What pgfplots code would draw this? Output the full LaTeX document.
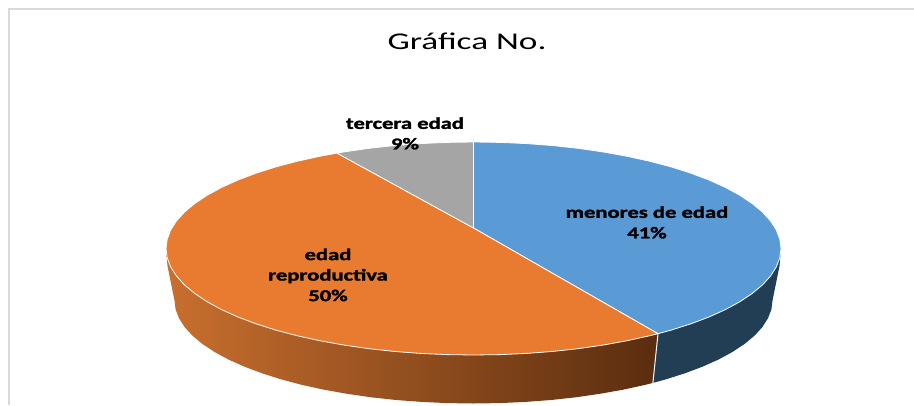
\documentclass[border=0pt]{standalone}
\usepackage{fontspec}
\setmainfont{Carlito}
\newfontfamily\lblfont[FakeBold=1.5]{Carlito Bold}
\usepackage{graphicx}
\usepackage{pgfplots}
\pgfplotsset{compat=1.18}

\definecolor{piegray}{HTML}{A5A5A5}
\definecolor{pieblue}{HTML}{5B9BD5}
\definecolor{pieorange}{HTML}{E97B30}
\definecolor{sideblue}{HTML}{223E55}
\definecolor{sideleft}{HTML}{C96F2E}
\definecolor{sideright}{HTML}{5A2D0F}
\definecolor{framegray}{HTML}{D9D9D9}

\newcommand{\lbl}[1]{\scalebox{1.37}[1]{\fontsize{16.5}{20.5}\selectfont\lblfont\begin{tabular}{@{}c@{}}#1\end{tabular}}}

\begin{document}
\begin{tikzpicture}
\useasboundingbox (0,0) rectangle (914pt,405pt);
\begin{axis}[
    at={(0,0)}, anchor=south west,
    width=914pt, height=405pt,
    scale only axis,
    xmin=0, xmax=914,
    ymin=0, ymax=405,
    y dir=reverse,
    hide axis,
    ]

% frame
\addplot[framegray, line width=2pt] coordinates {(8.5,405) (8.5,9) (914,9)};

% side of the orange slice
\addplot[draw=none, left color=sideleft, right color=sideright] coordinates {
(166,248.5) (167.5,266) (174.5,300.5) (175.6,309.5) (179.1,318.4) (184.7,327.2)
(192.5,335.7) (202.5,344.0) (214.6,352.0) (228.6,359.6) (244.5,366.7) (262.1,373.3)
(281.3,379.4) (302.0,384.9) (324.0,389.7) (347.1,393.8) (371.2,397.3) (396.1,400.0)
(421.6,401.9) (447.4,403.1) (473.5,403.5) (499.6,403.1) (525.4,401.9) (550.9,400.0)
(575.8,397.3) (599.9,393.8) (623.0,389.7) (645.0,384.9) (652.9,382.9) (658,333.7)
} -- cycle;

% side of the blue slice
\addplot[fill=sideblue, draw=none] coordinates {
(658,333.7) (652.9,382.9) (665.7,379.4) (684.9,373.3) (702.5,366.7) (718.4,359.6)
(732.4,352.0) (744.5,344.0) (754.5,335.7) (762.3,327.2) (767.9,318.4) (771.4,309.5)
(772.5,300.5) (779.5,266) (781,248.5)
} -- cycle;

% gap between the two sides
\addplot[white, line width=1pt] coordinates {(658,333.7) (652.9,382.9)};

% menores de edad, 41%
\addplot[fill=pieblue, draw=white, line width=0.8pt, line join=round] coordinates {
(473.5,228) (473.5,142) (500.3,142.4) (526.9,143.6) (553.1,145.6) (578.7,148.4)
(603.5,152.0) (627.25,156.3) (649.9,161.3) (671.2,166.9) (690.9,173.2) (709.0,180.0)
(725.4,187.4) (739.8,195.25) (752.2,203.5) (762.5,212.1) (770.5,220.9) (776.3,230.0)
(779.8,239.2) (781,248.5) (779.8,257.8) (776.3,267.0) (770.5,276.1) (762.5,284.9)
(752.2,293.5) (739.8,301.75) (725.4,309.6) (709.0,317.0) (690.9,323.8) (671.2,330.1)
(658,333.7)
} -- cycle;

% edad reproductiva, 50%
\addplot[fill=pieorange, draw=white, line width=0.8pt, line join=round] coordinates {
(473.5,228) (658,333.7) (649.9,335.7) (627.25,340.7) (603.5,345.0) (578.7,348.6)
(553.1,351.4) (526.9,353.4) (500.3,354.6) (473.5,355) (446.7,354.6) (420.1,353.4)
(393.9,351.4) (368.3,348.6) (343.5,345.0) (319.75,340.7) (297.1,335.7) (275.8,330.1)
(256.1,323.8) (238.0,317.0) (221.6,309.6) (207.2,301.75) (194.8,293.5) (184.5,284.9)
(176.5,276.1) (170.7,267.0) (167.2,257.8) (166,248.5) (167.2,239.2) (170.7,230.0)
(176.5,220.9) (184.5,212.1) (194.8,203.5) (207.2,195.25) (221.6,187.4) (238.0,180.0)
(256.1,173.2) (275.8,166.9) (297.1,161.3) (319.75,156.3) (337,153.1)
} -- cycle;

% tercera edad, 9%
\addplot[fill=piegray, draw=white, line width=0.8pt, line join=round] coordinates {
(473.5,228) (337,153.1) (343.5,152.0) (368.3,148.4) (393.9,145.6) (420.1,143.6)
(446.7,142.4) (473.5,142)
} -- cycle;

\node at (axis cs:467,41) {\scalebox{1.47}[1]{\fontsize{24}{28}\selectfont Gráfica No.}};
\node at (axis cs:405,135) {\lbl{tercera edad\\9\%}};
\node at (axis cs:647,224) {\lbl{menores de edad\\41\%}};
\node at (axis cs:328,276.5) {\lbl{edad\\reproductiva\\50\%}};

\end{axis}
\end{tikzpicture}
\end{document}
